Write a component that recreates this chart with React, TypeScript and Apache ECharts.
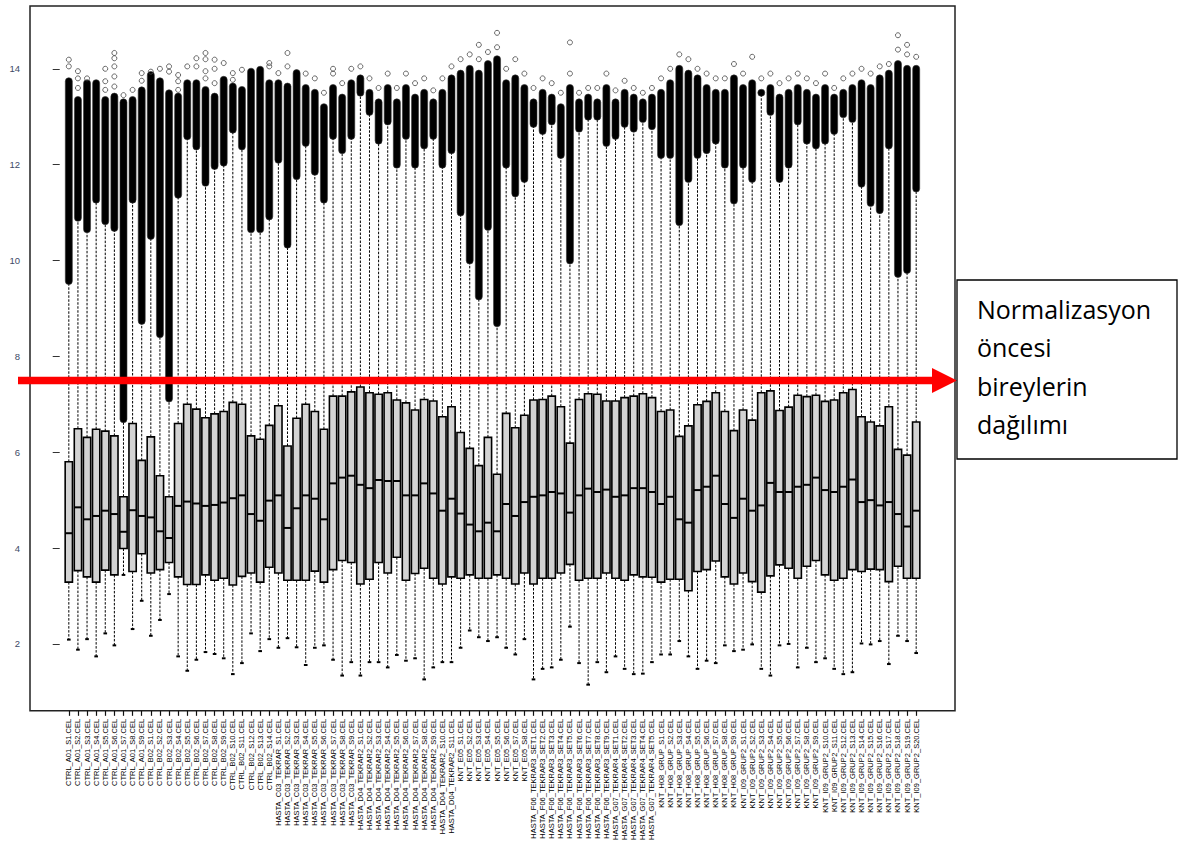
import React, { useEffect, useRef } from "react";
import * as echarts from "echarts";

// ---------- data ----------
const labelGroups = [
  { prefix: "CTRL_A01_S", count: 9 },
  { prefix: "CTRL_B02_S", count: 14 },
  { prefix: "HASTA_C03_TEKRAR_S", count: 9 },
  { prefix: "HASTA_D04_TEKRAR2_S", count: 11 },
  { prefix: "KNT_E05_S", count: 8 },
  { prefix: "HASTA_F06_TEKRAR3_SET", count: 9 },
  { prefix: "HASTA_G07_TEKRAR4_SET", count: 5 },
  { prefix: "KNT_H08_GRUP_S", count: 9 },
  { prefix: "KNT_I09_GRUP2_S", count: 20 },
];
const sampleLabels: string[] = labelGroups.flatMap((g) =>
  Array.from({ length: g.count }, (_, k) => `${g.prefix}${k + 1}.CEL`)
);

const lowWhisker = [
  2.09, 1.88, 2.10, 1.74, 2.22, 1.97, 3.44, 2.31, 2.90, 2.17,
  2.50, 3.04, 1.74, 1.44, 1.67, 1.83, 1.79, 1.70, 1.37, 1.60,
  2.22, 1.85, 2.10, 1.92, 2.12, 1.93, 1.56, 1.92, 1.97, 1.67,
  1.34, 1.62, 1.34, 1.62, 1.62, 1.51, 1.77, 1.65, 1.70, 1.26,
  1.51, 1.62, 1.62, 1.92, 2.28, 2.14, 2.06, 2.14, 1.92, 1.78,
  2.10, 1.26, 1.48, 1.51, 1.67, 2.36, 1.60, 1.15, 1.62, 1.41,
  1.74, 1.48, 1.37, 1.38, 1.62, 1.78, 1.78, 2.06, 1.74, 1.48,
  1.65, 1.60, 1.97, 1.85, 1.88, 1.99, 1.48, 1.34, 1.97, 2.00,
  1.51, 1.92, 1.62, 1.70, 1.48, 1.37, 1.41, 2.01, 1.99, 2.06,
  1.58, 2.17, 2.06, 1.81,
];
const q1 = [
  3.29, 3.53, 3.40, 3.29, 3.54, 3.44, 3.99, 3.51, 3.88, 3.48,
  3.55, 3.70, 3.40, 3.24, 3.24, 3.44, 3.33, 3.37, 3.23, 3.41,
  3.48, 3.29, 3.60, 3.48, 3.33, 3.33, 3.33, 3.52, 3.29, 3.55,
  3.74, 3.70, 3.25, 3.35, 3.70, 3.48, 3.81, 3.33, 3.47, 3.58,
  3.37, 3.25, 3.40, 3.37, 3.44, 3.37, 3.37, 3.44, 3.37, 3.25,
  3.48, 3.25, 3.37, 3.37, 3.48, 3.66, 3.33, 3.37, 3.37, 3.48,
  3.37, 3.33, 3.44, 3.40, 3.39, 3.29, 3.35, 3.35, 3.11, 3.51,
  3.55, 3.73, 3.40, 3.25, 3.48, 3.30, 3.08, 3.42, 3.65, 3.58,
  3.37, 3.62, 3.74, 3.44, 3.33, 3.37, 3.55, 3.51, 3.56, 3.55,
  3.30, 3.62, 3.37, 3.37,
];
const median = [
  4.31, 4.85, 4.60, 4.67, 4.78, 4.71, 4.34, 4.79, 4.67, 4.64,
  4.35, 4.21, 4.88, 4.97, 4.93, 4.88, 4.90, 4.95, 5.04, 5.10,
  4.71, 4.57, 4.99, 5.10, 4.42, 4.83, 5.10, 5.03, 4.60, 5.35,
  5.47, 5.51, 5.32, 5.25, 5.42, 5.40, 5.40, 5.10, 5.10, 5.35,
  5.14, 4.78, 5.03, 4.72, 4.49, 4.35, 4.53, 4.35, 4.92, 4.67,
  4.96, 5.07, 5.10, 5.17, 5.14, 4.74, 5.10, 5.24, 5.17, 5.22,
  5.07, 5.10, 5.25, 5.25, 5.17, 4.92, 5.07, 4.60, 4.53, 5.21,
  5.28, 5.51, 4.92, 4.63, 5.03, 4.78, 4.89, 5.36, 5.17, 5.17,
  5.28, 5.32, 5.47, 5.21, 5.17, 5.28, 5.43, 4.96, 5.00, 4.89,
  4.96, 4.71, 4.45, 4.78,
];
const q3 = [
  5.80, 6.49, 6.31, 6.48, 6.44, 6.34, 5.07, 6.60, 5.83, 6.32,
  5.51, 5.07, 6.60, 7.00, 6.90, 6.72, 6.80, 6.85, 7.04, 7.00,
  6.34, 6.27, 6.56, 6.97, 6.13, 6.71, 7.00, 6.85, 6.48, 7.17,
  7.17, 7.26, 7.36, 7.24, 7.21, 7.24, 7.09, 7.03, 6.88, 7.10,
  7.07, 6.74, 6.95, 6.41, 6.08, 5.72, 6.31, 5.54, 6.81, 6.51,
  6.77, 7.09, 7.10, 7.17, 6.95, 6.19, 7.10, 7.22, 7.21, 7.07,
  7.07, 7.14, 7.17, 7.22, 7.14, 6.85, 6.88, 6.33, 6.55, 6.99,
  7.06, 7.24, 6.85, 6.45, 6.88, 6.67, 7.24, 7.28, 6.87, 6.94,
  7.19, 7.16, 7.19, 7.06, 7.09, 7.24, 7.31, 6.74, 6.63, 6.55,
  6.95, 6.06, 5.94, 6.63,
];
// upper whisker end = where the dense column of outliers begins
const highWhisker = [
  9.57, 10.89, 10.65, 11.27, 10.82, 10.68, 6.69, 11.27, 8.74, 10.51,
  8.46, 7.12, 11.37, 12.59, 12.38, 11.62, 11.97, 12.04, 12.73, 12.38,
  10.65, 10.65, 10.92, 12.10, 10.33, 11.76, 12.45, 11.85, 11.27, 12.60,
  12.30, 12.60, 13.50, 13.10, 12.50, 12.90, 12.00, 12.60, 12.00, 12.40,
  12.60, 12.00, 12.30, 11.00, 10.00, 9.25, 10.70, 8.69, 12.00, 11.40,
  11.70, 12.85, 12.70, 12.90, 12.20, 10.00, 12.75, 13.00, 13.00, 12.45,
  12.60, 12.85, 12.75, 12.95, 12.80, 12.20, 12.20, 10.80, 11.70, 12.20,
  12.30, 12.50, 12.00, 11.25, 12.00, 11.70, 13.50, 13.10, 11.70, 12.00,
  12.90, 12.50, 12.40, 12.50, 12.70, 13.05, 12.95, 11.60, 11.20, 11.05,
  12.40, 9.72, 9.80, 11.50,
];
// top of the dense column of outliers
const denseOutlierTop = [
  13.74, 13.35, 13.70, 13.70, 13.35, 13.42, 13.30, 13.35, 13.55, 13.87,
  13.74, 13.49, 13.42, 13.70, 13.70, 13.56, 13.42, 13.77, 13.63, 13.56,
  13.94, 13.98, 13.70, 13.70, 13.63, 13.91, 13.60, 13.50, 13.20, 13.60,
  13.40, 13.70, 13.80, 13.50, 13.30, 13.60, 13.30, 13.60, 13.40, 13.50,
  13.30, 13.50, 13.80, 13.90, 14.00, 13.90, 14.10, 14.20, 13.70, 13.80,
  13.60, 13.30, 13.50, 13.40, 13.20, 13.60, 13.30, 13.40, 13.30, 13.60,
  13.30, 13.50, 13.40, 13.30, 13.40, 13.50, 13.70, 14.00, 13.90, 13.80,
  13.60, 13.50, 13.50, 13.80, 13.60, 13.70, 13.50, 13.60, 13.40, 13.50,
  13.60, 13.50, 13.40, 13.60, 13.40, 13.50, 13.60, 13.70, 13.60, 13.80,
  13.90, 14.10, 14.00, 14.00,
];
// a few isolated outliers above the dense columns
const sparseOutliers: number[][] = [
  [14.05, 14.19], [13.6, 13.8, 13.95], [13.8], [], [13.56, 13.74, 14.0],
  [13.63, 13.84, 14.05, 14.22, 14.33], [13.45], [13.56], [13.75, 13.91], [13.94],
  [14.0], [13.94, 14.05], [13.56, 13.74, 13.87], [14.05], [14.05, 14.22],
  [13.8, 13.95, 14.2, 14.33], [13.7, 14.0, 14.19], [14.12], [13.77, 13.91], [13.98],
  [], [], [14.05, 14.12], [13.91], [14.05, 14.33],
  [], [13.9], [13.8], [13.5], [13.9, 14.0],
  [13.7], [14.0], [14.05], [13.8], [13.6],
  [13.9], [13.6], [13.9], [13.7], [13.8],
  [13.55], [13.8], [14.05], [14.2], [14.3],
  [14.2, 14.5], [14.35], [14.45, 14.75], [14.0], [14.2],
  [13.9], [13.6], [13.8], [13.7], [13.5],
  [13.9, 14.55], [13.5], [13.6], [13.6], [13.9],
  [13.55], [13.75], [13.6], [13.5], [13.6],
  [13.8], [14.0], [14.3], [14.2], [14.0],
  [13.9], [13.8], [13.8], [14.1], [13.9],
  [14.25], [13.8], [13.9], [13.7], [13.8],
  [13.9], [13.8], [13.7], [13.9], [13.6],
  [13.8], [13.9], [14.0], [13.9], [14.05],
  [14.1], [14.4, 14.7], [14.3, 14.5], [14.25],
];
const yTicks = [2, 4, 6, 8, 10, 12, 14];
const annotationLines = ["Normalizasyon", "öncesi", "bireylerin", "dağılımı"];

const N = median.length;
const positions = Array.from({ length: N }, (_, i) => i + 1);

export default function App() {
  const ref = useRef<HTMLDivElement>(null);

  useEffect(() => {
    document.body.style.margin = "0";
    if (!ref.current) return;
    const chart = echarts.init(ref.current, null, { renderer: "svg" });

    const boxData = positions.map((p, i) => [
      p, lowWhisker[i], q1[i], median[i], q3[i], highWhisker[i], denseOutlierTop[i],
    ]);
    const sparseData: number[][] = [];
    sparseOutliers.forEach((arr, i) => arr.forEach((v) => sparseData.push([i + 1, v])));

    const xMin = 0.5 - 0.04 * N;
    const xMax = N + 0.5 + 0.04 * N;

    chart.setOption({
      animation: false,
      textStyle: { fontFamily: "'Liberation Sans', Arial, sans-serif" },
      grid: {
        left: 30, right: 229, top: 6, bottom: 131,
        show: true, borderColor: "#222", borderWidth: 1.5, backgroundColor: "transparent",
      },
      xAxis: {
        type: "value",
        min: xMin,
        max: xMax,
        splitLine: { show: false },
        axisLine: { show: false },
        axisTick: { show: true, customValues: positions, length: 5, lineStyle: { color: "#111", width: 1.2 } },
        axisLabel: {
          customValues: positions,
          formatter: (v: number) => sampleLabels[Math.round(v) - 1] ?? "",
          rotate: 90,
          fontSize: 7.5,
          margin: 8,
          color: "#000",
          hideOverlap: false,
        },
      },
      yAxis: {
        type: "value",
        min: 0.604,
        max: 15.31,
        splitLine: { show: false },
        axisLine: { show: false },
        axisTick: { show: true, customValues: yTicks, length: 7, lineStyle: { color: "#333" } },
        axisLabel: { customValues: yTicks, fontSize: 9.5, color: "#3d4a66", margin: 10 },
      },
      series: [
        {
          type: "custom",
          data: boxData,
          dimensions: ["x", "low", "q1", "med", "q3", "hi", "top"],
          encode: { x: 0, y: [1, 2, 3, 4, 5, 6] },
          renderItem: (_params: any, api: any) => {
            const x = api.value(0);
            const pLow = api.coord([x, api.value(1)]);
            const pQ1 = api.coord([x, api.value(2)]);
            const pMed = api.coord([x, api.value(3)]);
            const pQ3 = api.coord([x, api.value(4)]);
            const pHi = api.coord([x, api.value(5)]);
            const pTop = api.coord([x, api.value(6)]);
            const bw = api.size([0.8, 0])[0];
            const half = bw / 2;
            const cx = pLow[0];
            const dash = { stroke: "#000", lineWidth: 1, lineDash: [2.5, 1.5] };
            return {
              type: "group",
              children: [
                { type: "line", shape: { x1: cx, y1: pQ3[1], x2: cx, y2: pHi[1] }, style: dash },
                { type: "line", shape: { x1: cx, y1: pQ1[1], x2: cx, y2: pLow[1] }, style: dash },
                {
                  type: "line",
                  shape: { x1: cx - half / 2, y1: pLow[1], x2: cx + half / 2, y2: pLow[1] },
                  style: { stroke: "#000", lineWidth: 2 },
                },
                {
                  type: "rect",
                  shape: { x: cx - half, y: pQ3[1], width: bw, height: pQ1[1] - pQ3[1] },
                  style: { fill: "#d3d3d3", stroke: "#000", lineWidth: 1.6 },
                },
                {
                  type: "line",
                  shape: { x1: cx - half, y1: pMed[1], x2: cx + half, y2: pMed[1] },
                  style: { stroke: "#000", lineWidth: 2 },
                },
                {
                  type: "rect",
                  shape: { x: cx - 3.5, y: pTop[1] - 3.5, width: 7, height: pHi[1] - pTop[1] + 7, r: 3.5 },
                  style: { fill: "#000", stroke: "#333", lineWidth: 0.6 },
                },
              ],
            };
          },
          z: 2,
        },
        {
          type: "scatter",
          data: sparseData,
          symbol: "circle",
          symbolSize: 5,
          itemStyle: { color: "transparent", borderColor: "#444", borderWidth: 1 },
          z: 3,
        },
      ],
      graphic: [
        { type: "rect", z: 100, shape: { x: 18, y: 376.7, width: 916, height: 7.6 }, style: { fill: "#ff0000" } },
        {
          type: "polygon", z: 100,
          shape: { points: [[932, 368], [957, 380.5], [932, 393]] },
          style: { fill: "#ff0000" },
        },
        {
          type: "rect", z: 100,
          shape: { x: 957, y: 280, width: 220, height: 179 },
          style: { fill: "#fff", stroke: "#000", lineWidth: 1.3 },
        },
        {
          type: "text", z: 101, x: 977, y: 290,
          style: {
            text: annotationLines.join("\n"),
            fontSize: 25,
            fontFamily: "'Open Sans', 'Noto Sans', sans-serif",
            fill: "#000",
            lineHeight: 38.3,
            verticalAlign: "top",
            align: "left",
          },
        },
      ],
    });
    return () => chart.dispose();
  }, []);

  return <div ref={ref} style={{ width: 1184, height: 843 }} />;
}
